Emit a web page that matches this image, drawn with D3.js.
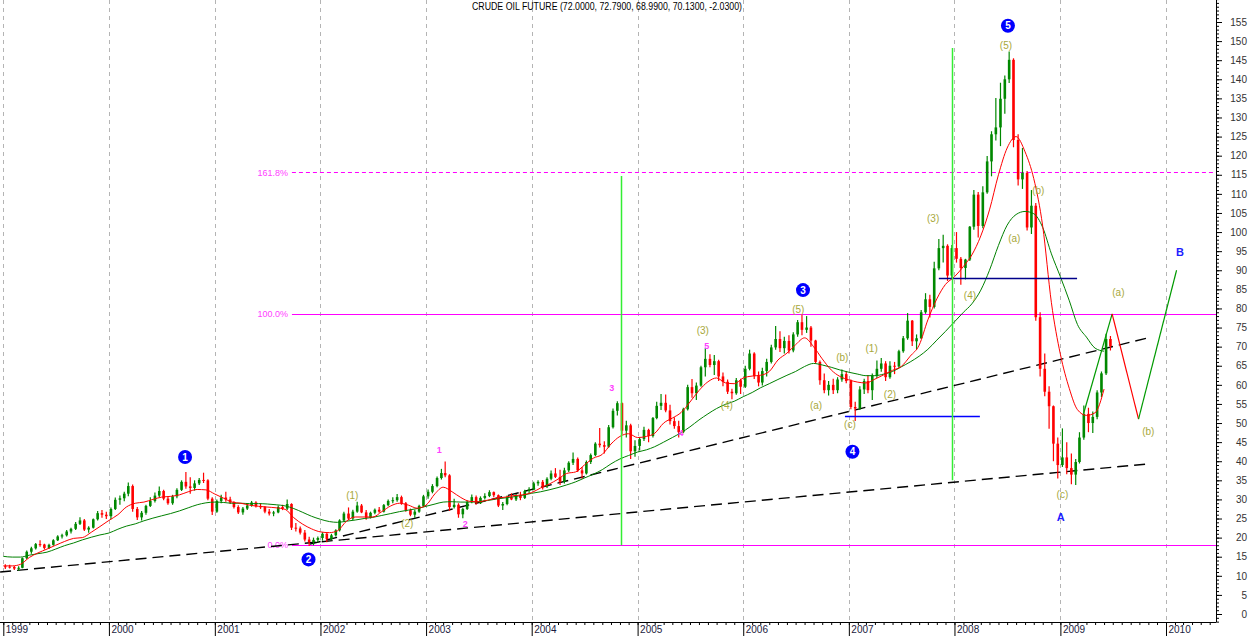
<!DOCTYPE html>
<html>
<head>
<meta charset="utf-8">
<script src="https://cdn.jsdelivr.net/npm/d3@7"></script>
<style>
  html, body { margin: 0; padding: 0; background: #fff; }
  svg { display: block; font-family: "Liberation Sans", Arial, sans-serif; }
</style>
</head>
<body>
<svg id="chart" width="1250" height="636"></svg>
<script>
// half-month bars: [open, high, low, close], first half then second half of each month
var bars1999 = [
  [12.5,13.0,11.8,12.4],[12.4,12.9,11.9,12.3],[12.3,12.6,11.5,11.9],[11.9,12.5,11.3,12.1],
  [12.1,14.8,12.0,14.6],[14.6,16.6,14.4,16.3],[16.3,17.6,15.8,17.2],[17.2,18.6,16.9,18.3],
  [18.3,19.3,17.6,18.2],[18.2,18.4,16.9,17.3],[17.3,18.4,17.0,18.1],[18.1,19.6,17.9,19.3],
  [19.3,20.6,19.1,20.3],[20.3,21.0,19.8,20.6],[20.6,22.0,20.3,21.6],[21.6,22.6,21.1,22.3],
  [22.3,24.1,22.0,23.6],[23.6,25.3,23.3,24.5],[24.5,24.9,21.7,22.1],[22.1,23.0,21.3,22.6],
  [22.6,25.0,22.4,24.8],[24.8,27.0,24.5,26.4],[26.4,27.2,25.2,26.0],[26.0,26.8,24.9,25.6]];
var bars2000 = [
  [25.6,27.9,24.8,27.5],[27.5,30.5,27.2,29.9],[29.9,31.0,28.6,30.3],[30.3,32.0,29.5,31.5],
  [31.5,34.4,30.8,33.5],[33.5,33.9,26.8,27.5],[27.5,28.0,24.6,25.3],[25.3,27.0,24.5,26.5],
  [26.5,28.6,26.0,28.3],[28.3,30.6,28.0,29.6],[29.6,31.8,29.2,31.0],[31.0,33.4,30.6,32.2],
  [32.2,32.5,29.8,30.2],[30.2,30.8,28.6,29.0],[29.0,31.2,28.6,30.8],[30.8,32.9,30.3,32.5],
  [32.5,35.0,32.2,34.6],[34.6,37.2,32.8,33.4],[33.4,35.8,31.5,33.0],[33.0,35.0,32.3,34.2],
  [34.2,35.6,33.8,35.1],[35.1,37.0,34.3,35.0],[35.0,35.3,29.8,30.2],[30.2,30.6,25.9,26.8]];
var bars2001 = [
  [26.8,30.0,26.5,29.6],[29.6,31.2,29.0,30.5],[30.5,32.0,29.4,30.0],[30.0,30.7,28.8,29.2],
  [29.2,29.5,27.6,28.0],[28.0,28.5,26.2,26.6],[26.6,28.0,26.0,27.6],[27.6,29.0,27.2,28.4],
  [28.4,29.6,28.1,29.2],[29.2,29.5,27.9,28.2],[28.2,29.0,27.5,28.0],[28.0,28.3,26.4,26.8],
  [26.8,27.5,25.8,26.3],[26.3,27.0,25.6,26.6],[26.6,28.4,26.4,28.0],[28.0,28.6,27.2,27.6],
  [27.6,30.0,27.2,28.8],[28.8,29.0,22.0,22.6],[22.6,23.8,21.6,22.4],[22.4,22.9,20.8,21.3],
  [21.3,22.0,19.0,19.5],[19.5,20.2,17.8,18.8],[18.8,20.0,18.0,19.4],[19.4,20.3,18.8,19.9]];
var bars2002 = [
  [19.9,21.4,19.2,21.0],[21.0,21.3,18.8,19.6],[19.6,21.0,19.3,20.6],[20.6,22.2,20.3,21.9],
  [21.9,24.8,21.6,24.5],[24.5,26.8,24.2,26.3],[26.3,27.9,24.6,25.0],[25.0,27.3,24.6,26.8],
  [26.8,29.4,26.5,28.4],[28.4,28.8,26.4,26.6],[26.6,27.2,24.7,25.2],[25.2,26.8,25.0,26.5],
  [26.5,27.6,26.1,27.3],[27.3,28.0,26.5,26.8],[26.8,28.8,26.6,28.5],[28.5,30.0,28.2,29.6],
  [29.6,30.6,29.0,29.8],[29.8,31.4,29.4,30.6],[30.6,31.0,28.6,29.0],[29.0,29.3,26.8,27.2],
  [27.2,27.6,25.6,26.0],[26.0,27.3,25.2,26.8],[26.8,28.6,26.5,28.3],[28.3,31.2,28.0,30.8]];
var bars2003 = [
  [30.8,32.6,30.2,32.0],[32.0,34.0,31.6,33.5],[33.5,36.0,33.2,35.6],[35.6,38.0,35.2,36.9],
  [36.9,39.9,35.8,36.3],[36.3,36.6,27.0,28.0],[28.0,30.2,27.6,28.6],[28.6,29.0,25.2,26.1],
  [26.1,27.8,25.1,27.5],[27.5,29.8,27.2,29.3],[29.3,31.3,29.0,30.6],[30.6,31.0,28.6,29.0],
  [29.0,30.8,28.8,30.4],[30.4,31.6,30.0,30.9],[30.9,32.4,30.6,31.9],[31.9,32.1,30.6,31.1],
  [31.1,31.3,28.0,28.4],[28.4,29.3,27.2,28.8],[28.8,31.0,28.5,30.6],[30.6,31.6,29.8,30.0],
  [30.0,31.4,29.6,31.0],[31.0,32.0,29.8,30.4],[30.4,32.5,30.1,32.2],[32.2,33.2,31.6,32.6]];
var bars2004 = [
  [32.6,34.6,32.4,34.2],[34.2,35.0,33.6,34.6],[34.6,35.1,32.6,33.4],[33.4,35.8,33.0,35.4],
  [35.4,37.6,35.0,36.8],[36.8,38.2,35.6,35.9],[35.9,37.8,33.8,34.6],[34.6,38.3,34.2,37.6],
  [37.6,40.0,37.2,39.6],[39.6,42.3,39.0,40.6],[40.6,41.0,37.2,37.6],[37.6,38.5,35.4,36.8],
  [36.8,40.2,36.5,39.8],[39.8,42.0,39.3,41.6],[41.6,45.0,41.3,44.6],[44.6,48.7,43.6,44.2],
  [44.2,45.2,42.0,43.8],[43.8,49.5,43.5,48.9],[48.9,53.8,48.6,53.2],[53.2,55.7,52.0,55.2],
  [55.2,55.4,47.0,48.0],[48.0,50.6,46.2,49.4],[49.4,49.8,40.6,42.6],[42.6,45.5,41.2,44.0]];
var bars2005 = [
  [44.0,46.3,42.8,45.8],[45.8,49.0,45.3,48.2],[48.2,48.5,45.0,46.6],[46.6,51.6,46.2,51.3],
  [51.3,55.6,51.0,54.5],[54.5,57.6,53.4,55.3],[55.3,57.5,52.8,53.3],[53.3,54.8,49.6,50.5],
  [50.5,51.5,48.5,49.2],[49.2,50.6,46.2,47.6],[47.6,54.0,47.3,53.6],[53.6,60.0,53.3,59.4],
  [59.4,61.5,56.6,57.8],[57.8,60.6,56.0,59.8],[59.8,65.0,59.5,64.6],[64.6,69.6,62.2,66.8],
  [66.8,68.0,64.6,65.2],[65.2,67.8,62.6,66.2],[66.2,66.6,61.0,62.2],[62.2,63.2,59.6,60.8],
  [60.8,61.4,57.6,58.2],[58.2,59.0,56.2,57.8],[57.8,61.8,57.4,61.2],[61.2,61.6,57.6,59.5]];
var bars2006 = [
  [59.5,65.0,59.2,64.2],[64.2,69.2,63.8,68.2],[68.2,68.5,61.5,62.3],[62.3,63.5,59.6,60.6],
  [60.6,64.5,59.8,63.6],[63.6,66.8,62.2,66.0],[66.0,70.5,65.6,69.8],[69.8,75.4,69.2,72.0],
  [72.0,74.0,68.6,69.6],[69.6,72.6,68.2,71.5],[71.5,73.0,68.2,69.0],[69.0,73.8,68.5,73.2],
  [73.2,77.0,72.6,76.4],[76.4,78.4,73.0,74.4],[74.4,78.0,73.6,75.0],[75.0,75.4,70.0,71.6],
  [71.6,71.8,65.5,66.0],[66.0,66.4,60.0,61.2],[61.2,63.0,57.8,58.6],[58.6,61.0,57.2,60.0],
  [60.0,61.6,57.6,58.6],[58.6,62.0,57.8,61.4],[61.4,64.0,60.8,62.8],[62.8,63.6,60.4,61.0]];
var bars2007 = [
  [61.0,61.4,53.6,54.2],[54.2,55.6,50.5,53.8],[53.8,59.6,53.4,58.8],[58.8,61.6,57.6,61.0],
  [61.0,62.6,57.8,58.6],[58.6,63.0,56.0,62.4],[62.4,66.4,61.8,64.2],[64.2,67.0,63.4,65.6],
  [65.6,66.2,61.0,62.0],[62.0,66.2,61.6,65.0],[65.0,66.0,62.8,64.8],[64.8,69.2,64.5,68.8],
  [68.8,72.8,68.4,72.2],[72.2,78.8,71.8,76.8],[76.8,77.0,70.2,71.4],[71.4,73.2,69.2,72.2],
  [72.2,79.6,72.0,79.0],[79.0,84.0,78.6,82.4],[82.4,83.6,77.6,80.4],[80.4,92.2,80.0,90.5],
  [90.5,98.2,90.0,95.8],[95.8,99.3,92.0,96.4],[96.4,96.8,87.2,88.6],[88.6,96.6,88.0,95.8]];
var bars2008 = [
  [95.8,100.0,92.0,93.0],[93.0,93.5,86.2,90.6],[90.6,93.0,87.6,92.8],[92.8,101.6,92.4,101.4],
  [101.4,111.0,100.6,109.8],[109.8,110.5,98.6,101.6],[101.6,112.0,101.0,110.4],[110.4,119.9,110.0,118.5],
  [118.5,126.4,114.6,125.6],[125.6,135.1,124.0,127.4],[127.4,139.1,122.5,134.9],[134.9,141.0,131.0,140.0],
  [140.0,147.3,139.0,145.1],[145.1,145.5,122.2,124.1],[124.1,125.6,112.2,113.8],[113.8,122.0,111.3,115.5],
  [115.5,116.0,100.4,101.2],[101.2,111.0,99.5,106.9],[106.9,107.6,76.8,77.7],[77.7,79.0,62.2,64.2],
  [64.2,68.2,57.0,58.2],[58.2,59.6,48.5,54.4],[54.4,54.6,40.0,44.6],[44.6,46.2,35.5,39.0]];
var bars2009 = [
  [39.0,48.6,38.5,41.0],[41.0,45.0,36.6,38.2],[38.2,42.0,34.0,36.5],[36.5,40.6,33.8,39.8],
  [39.8,47.6,39.4,46.2],[46.2,54.6,45.6,52.4],[52.4,54.0,47.6,50.0],[50.0,53.0,47.4,51.6],
  [51.6,58.6,51.0,58.0],[58.0,63.5,56.8,63.0],[63.0,73.4,62.6,72.0],[72.0,72.79,68.99,70.13]];

// moving averages, one value per month from Jan 1999
var maFast = [
  12.6,12.6,13.0,14.8,16.0,17.0,18.0,19.0,19.8,20.0,21.4,22.9,
  24.5,26.0,28.0,29.0,29.3,30.0,30.6,30.8,31.2,32.0,32.6,32.5,
  31.4,30.3,29.3,29.0,28.5,28.2,28.0,27.8,27.4,25.2,23.5,22.3,
  21.5,21.3,21.8,24.3,25.4,25.4,25.4,26.8,28.3,29.0,28.5,27.7,
  28.5,31.5,33.2,32.0,30.5,29.5,29.4,29.8,30.3,30.6,31.0,31.2,
  31.8,33.0,34.0,35.3,36.8,37.2,39.0,40.8,41.8,44.5,46.5,47.2,
  46.2,46.5,47.3,50.0,51.3,52.8,55.5,58.5,60.8,61.8,60.5,60.3,
  61.8,62.3,62.5,63.5,66.5,68.3,70.5,72.3,70.0,66.8,63.9,62.2,
  61.3,60.7,60.5,61.5,62.6,63.8,64.8,67.5,70.4,77.0,82.5,86.3,
  88.3,91.0,94.0,99.0,105.8,115.0,122.0,125.0,121.0,114.0,101.5,81.5,
  68.0,59.0,53.5,52.0,52.7,58.9];
var maSlow = [
  15.1,14.9,14.9,15.4,15.8,16.2,17.0,17.9,18.6,19.4,20.1,20.7,
  21.2,22.2,23.0,23.6,24.4,25.1,25.7,26.3,27.0,27.8,28.6,29.1,
  29.3,29.2,29.0,29.0,28.9,28.9,28.8,28.6,28.3,27.6,26.6,25.6,
  24.8,24.2,24.0,24.3,24.6,25.0,25.3,25.8,26.3,26.8,27.2,27.6,
  28.2,28.8,29.3,29.4,29.3,29.3,29.4,29.7,30.1,30.4,30.7,31.1,
  31.6,32.0,32.5,33.1,33.8,34.6,35.6,36.6,37.8,39.3,40.6,41.5,
  42.4,43.0,43.8,45.0,46.2,47.5,49.0,50.8,52.4,53.8,54.9,55.7,
  56.9,58.0,59.2,60.3,61.4,62.5,63.5,64.8,65.6,65.2,64.6,63.9,
  63.3,62.8,62.4,62.4,62.8,63.5,64.7,66.0,67.5,69.3,71.7,74.0,
  76.5,79.0,81.2,84.8,90.0,96.5,101.8,104.6,105.4,104.8,101.2,94.3,
  88.3,82.0,75.8,72.5,69.6,68.8];

// fibonacci levels
var fibLabels = ['0.0%', '100.0%', '161.8%'];
var fibValues = [18.0, 78.5, 115.6];
var fibStart = 2001.73;

// wave counts (decimal year, price)
var waveNums = ['1', '2', '3', '4', '5'];
var waveDates = [2000.719, 2001.887, 2006.566, 2007.034, 2008.505];
var waveValues = [41.1, 14.3, 84.8, 42.5, 154.0];

var subWaveText = ['(1)','(2)','(3)','(4)','(5)','(a)','(b)','(c)','(1)','(2)','(3)','(4)','(5)','(a)','(b)','(c)','(a)','(b)'];
var subWaveDates = [2002.302,2002.822,2005.617,2005.844,2006.521,2006.689,2006.938,2007.010,2007.216,2007.389,2007.798,2008.146,2008.486,2008.565,2008.792,2009.019,2009.549,2009.832];
var subWaveValues = [30.9,23.7,74.1,54.5,79.8,54.5,67.2,49.5,69.4,57.6,103.6,83.5,148.8,98.2,111.0,31.4,84.2,47.9];

var minorText = ['1', '2', '3', '4', '5'];
var minorDates = [2003.125, 2003.371, 2004.756, 2005.411, 2005.655];
var minorValues = [43.1, 23.6, 59.1, 47.5, 70.2];

var letterText = ['A', 'B'];
var letterDates = [2009.004, 2010.132];
var letterValues = [25.3, 94.8];

// trend lines and markers
var trendLow = [[1998.97, 11.0], [2009.83, 39.3]];
var trendHigh = [[2001.90, 18.3], [2009.83, 72.3]];
var timeLineDates = [2004.844, 2007.976];
var timeLineRanges = [[18.0, 114.7], [35.0, 148.2]];
var levelLines = [[2006.963, 2008.24, 51.8], [2007.852, 2009.158, 88.0]];

// projected path
var projDates = [2009.22, 2009.49, 2009.74, 2010.10];
var projValues = [52.5, 78.6, 51.0, 90.0];

var title = 'CRUDE OIL FUTURE (72.0000, 72.7900, 68.9900, 70.1300, -2.0300)';

(function () {
	'use strict';

	var axisX = 1216, axisY = 622;
	var up = '#008800', down = '#ff0000';

	var x = d3.scaleTime()
		.domain([new Date(1999, 0, 1), new Date(2010, 0, 1)])
		.range([3.3, 1166]);
	var y = d3.scaleLinear().domain([0, 155]).range([614, 22]);

	// decimal year -> Date
	function yd(v) {
		var yr = Math.floor(v),
			s = new Date(yr, 0, 1), e = new Date(yr + 1, 0, 1);
		return new Date(+s + (v - yr) * (e - s));
	}
	function px(v) { return x(yd(v)); }

	var svg = d3.select('#chart');

	// year grid
	var years = d3.timeYear.range(new Date(1999, 0, 1), new Date(2010, 0, 2));
	svg.append('g').selectAll('line')
		.data(years)
		.enter().append('line')
		.attr('x1', function (d) { return Math.round(x(d)) + 0.5; })
		.attr('x2', function (d) { return Math.round(x(d)) + 0.5; })
		.attr('y1', 0).attr('y2', axisY)
		.attr('stroke', '#b4b4b4')
		.attr('stroke-dasharray', '4,4');

	// title
	svg.append('text')
		.attr('x', 607).attr('y', 10)
		.attr('text-anchor', 'middle')
		.attr('font-size', '10px')
		.attr('textLength', 270)
		.attr('lengthAdjust', 'spacingAndGlyphs')
		.attr('fill', '#000')
		.text(title);

	// fib levels
	var fib = svg.append('g');
	fibValues.forEach(function (v, i) {
		fib.append('line')
			.attr('x1', px(fibStart)).attr('x2', axisX)
			.attr('y1', Math.round(y(v)) + 0.5).attr('y2', Math.round(y(v)) + 0.5)
			.attr('stroke', '#ff00ff')
			.attr('stroke-width', 1)
			.attr('stroke-dasharray', i === 2 ? '4,3' : null);
		fib.append('text')
			.attr('x', px(fibStart) - 4)
			.attr('y', y(v))
			.attr('dy', '0.35em')
			.attr('text-anchor', 'end')
			.attr('font-size', '9px')
			.attr('fill', '#ff40ff')
			.text(fibLabels[i]);
	});

	// trend lines
	var trend = d3.line()
		.x(function (d) { return px(d[0]); })
		.y(function (d) { return y(d[1]); });
	[trendLow, trendHigh].forEach(function (t) {
		svg.append('path')
			.attr('d', trend(t))
			.attr('fill', 'none')
			.attr('stroke', '#000')
			.attr('stroke-width', 1.4)
			.attr('stroke-dasharray', '11,6');
	});

	// price bars
	var bars = [].concat(bars1999, bars2000, bars2001, bars2002, bars2003, bars2004,
		bars2005, bars2006, bars2007, bars2008, bars2009).map(function (b, i) {
		var yr = 1999 + Math.floor(i / 24),
			m = Math.floor((i % 24) / 2),
			day = i % 2 ? 16 : 1;
		return {date: new Date(yr, m, day + 7), o: b[0], h: b[1], l: b[2], c: b[3]};
	});

	var bar = svg.append('g').selectAll('g')
		.data(bars)
		.enter().append('g')
		.attr('fill', function (d) { return d.c >= d.o ? up : down; })
		.attr('stroke', function (d) { return d.c >= d.o ? up : down; });

	bar.append('line')
		.attr('x1', function (d) { return x(d.date); })
		.attr('x2', function (d) { return x(d.date); })
		.attr('y1', function (d) { return y(d.h); })
		.attr('y2', function (d) { return y(d.l); })
		.attr('stroke-width', 1.2);

	bar.append('rect')
		.attr('x', function (d) { return x(d.date) - 1.3; })
		.attr('width', 2.6)
		.attr('y', function (d) { return y(Math.max(d.o, d.c)); })
		.attr('height', function (d) { return Math.max(1, Math.abs(y(d.o) - y(d.c))); })
		.attr('stroke', 'none');

	// moving averages
	var ma = d3.line()
		.x(function (d, i) { return x(new Date(1999, i, 1)); })
		.y(function (d) { return y(d); })
		.curve(d3.curveMonotoneX);

	svg.append('path').attr('d', ma(maSlow))
		.attr('fill', 'none').attr('stroke', '#008000').attr('stroke-width', 1);
	svg.append('path').attr('d', ma(maFast))
		.attr('fill', 'none').attr('stroke', '#ff0000').attr('stroke-width', 1);

	// horizontal levels
	svg.append('g').selectAll('line')
		.data(levelLines)
		.enter().append('line')
		.attr('x1', function (d) { return px(d[0]); })
		.attr('x2', function (d) { return px(d[1]); })
		.attr('y1', function (d) { return Math.round(y(d[2])) + 0.5; })
		.attr('y2', function (d) { return Math.round(y(d[2])) + 0.5; })
		.attr('stroke', function (d, i) { return i ? '#00008a' : '#0000ff'; })
		.attr('stroke-width', 1.3);

	// time lines
	svg.append('g').selectAll('line')
		.data(timeLineDates)
		.enter().append('line')
		.attr('x1', function (d) { return Math.round(px(d)) + 0.5; })
		.attr('x2', function (d) { return Math.round(px(d)) + 0.5; })
		.attr('y1', function (d, i) { return y(timeLineRanges[i][1]); })
		.attr('y2', function (d, i) { return y(timeLineRanges[i][0]); })
		.attr('stroke', '#33ee33')
		.attr('stroke-width', 1.5);

	// projection
	var proj = svg.append('g');
	for (var k = 1; k < projDates.length; k++) {
		proj.append('line')
			.attr('x1', px(projDates[k - 1])).attr('y1', y(projValues[k - 1]))
			.attr('x2', px(projDates[k])).attr('y2', y(projValues[k]))
			.attr('stroke', projValues[k] > projValues[k - 1] ? '#009a00' : '#ff0000')
			.attr('stroke-width', 1.2);
	}

	// wave labels
	var waves = svg.append('g').selectAll('g')
		.data(waveNums)
		.enter().append('g')
		.attr('transform', function (d, i) {
			return 'translate(' + px(waveDates[i]) + ',' + y(waveValues[i]) + ')';
		});
	waves.append('circle').attr('r', 7).attr('fill', '#0000ff');
	waves.append('text')
		.attr('text-anchor', 'middle')
		.attr('dy', '0.36em')
		.attr('font-size', '10px')
		.attr('font-weight', 'bold')
		.attr('fill', '#fff')
		.text(function (d) { return d; });

	svg.append('g').selectAll('text')
		.data(subWaveText)
		.enter().append('text')
		.attr('x', function (d, i) { return px(subWaveDates[i]); })
		.attr('y', function (d, i) { return y(subWaveValues[i]); })
		.attr('dy', '0.35em')
		.attr('text-anchor', 'middle')
		.attr('font-size', '10px')
		.attr('fill', '#a8a83a')
		.text(function (d) { return d; });

	svg.append('g').selectAll('text')
		.data(minorText)
		.enter().append('text')
		.attr('x', function (d, i) { return px(minorDates[i]); })
		.attr('y', function (d, i) { return y(minorValues[i]); })
		.attr('dy', '0.35em')
		.attr('text-anchor', 'middle')
		.attr('font-size', '9px')
		.attr('font-weight', 'bold')
		.attr('fill', '#ff40ff')
		.text(function (d) { return d; });

	svg.append('g').selectAll('text')
		.data(letterText)
		.enter().append('text')
		.attr('x', function (d, i) { return px(letterDates[i]); })
		.attr('y', function (d, i) { return y(letterValues[i]); })
		.attr('dy', '0.35em')
		.attr('text-anchor', 'middle')
		.attr('font-size', '11px')
		.attr('font-weight', 'bold')
		.attr('fill', '#2020ff')
		.text(function (d) { return d; });

	// right price axis
	var yAxis = svg.append('g')
		.attr('transform', 'translate(' + axisX + ',0)');
	yAxis.append('g')
		.call(d3.axisRight(y).tickValues(d3.range(-2, 162)).tickSize(3).tickFormat(''));
	yAxis.append('g')
		.call(d3.axisRight(y).tickValues(d3.range(0, 156, 5)).tickSize(6));
	yAxis.selectAll('.domain').remove();
	yAxis.selectAll('.tick line').attr('stroke', '#000');
	yAxis.selectAll('.tick text')
		.attr('x', 31)
		.attr('text-anchor', 'end')
		.attr('font-size', '10px')
		.attr('font-family', '"Liberation Sans", Arial, sans-serif')
		.attr('fill', '#333');
	yAxis.append('line')
		.attr('x1', 0.5).attr('x2', 0.5)
		.attr('y1', 0).attr('y2', axisY)
		.attr('stroke', '#000');

	// bottom time axis
	var xa = x.copy()
		.domain([x.invert(0), x.invert(axisX)])
		.range([0, axisX]);
	var xAxis = svg.append('g')
		.attr('transform', 'translate(0,' + axisY + ')');
	xAxis.append('g')
		.call(d3.axisBottom(xa).ticks(d3.timeMonth.every(1)).tickSize(3).tickFormat(''));
	xAxis.append('g')
		.call(d3.axisBottom(xa).ticks(d3.timeYear.every(1)).tickSize(14).tickFormat(d3.timeFormat('%Y')));
	xAxis.selectAll('.domain').remove();
	xAxis.selectAll('.tick line').attr('stroke', '#000');
	xAxis.selectAll('.tick text')
		.attr('x', 2)
		.attr('y', 4)
		.attr('dy', '0.71em')
		.attr('text-anchor', 'start')
		.attr('font-size', '10px')
		.attr('font-family', '"Liberation Sans", Arial, sans-serif')
		.attr('fill', '#1a1a40');
	xAxis.append('line')
		.attr('x1', 0).attr('x2', axisX)
		.attr('y1', 0.5).attr('y2', 0.5)
		.attr('stroke', '#000');
})();
</script>
</body>
</html>
